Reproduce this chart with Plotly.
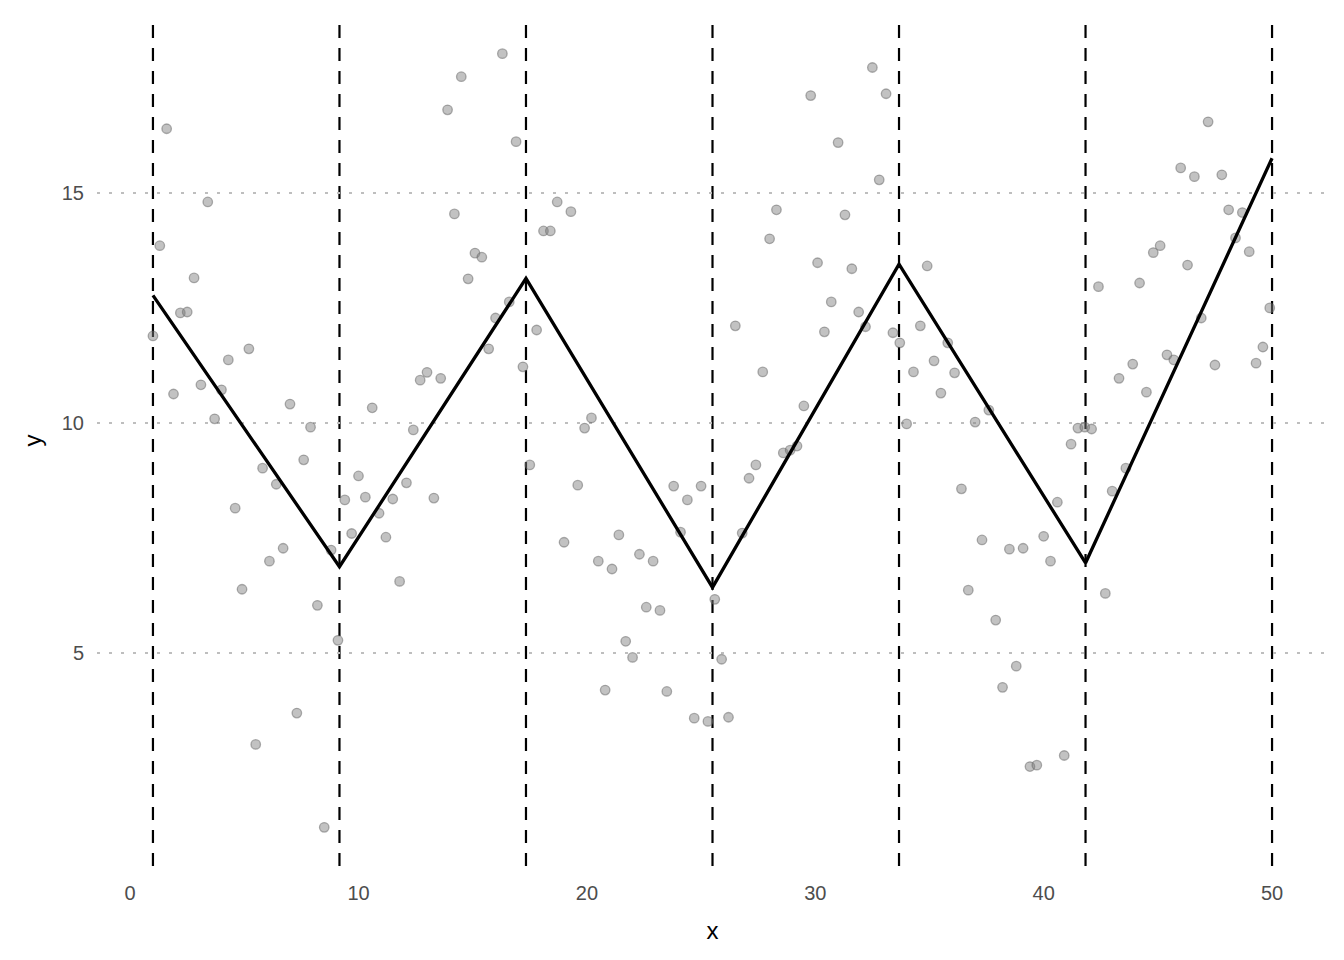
import plotly.graph_objects as go

x_obs = [1.0, 1.3, 1.6, 1.9, 2.2, 2.5, 2.8, 3.1, 3.4, 3.7,
         4.0, 4.3, 4.6, 4.9, 5.2, 5.5, 5.8, 6.1, 6.4, 6.7,
         7.0, 7.3, 7.6, 7.9, 8.2, 8.5, 8.8, 9.1, 9.4, 9.7,
         10.0, 10.3, 10.6, 10.9, 11.2, 11.5, 11.8, 12.1, 12.4, 12.7,
         13.0, 13.3, 13.6, 13.9, 14.2, 14.5, 14.8, 15.1, 15.4, 15.7,
         16.0, 16.3, 16.6, 16.9, 17.2, 17.5, 17.8, 18.1, 18.4, 18.7,
         19.0, 19.3, 19.6, 19.9, 20.2, 20.5, 20.8, 21.1, 21.4, 21.7,
         22.0, 22.3, 22.6, 22.9, 23.2, 23.5, 23.8, 24.1, 24.4, 24.7,
         25.0, 25.3, 25.6, 25.9, 26.2, 26.5, 26.8, 27.1, 27.4, 27.7,
         28.0, 28.3, 28.6, 28.9, 29.2, 29.5, 29.8, 30.1, 30.4, 30.7,
         31.0, 31.3, 31.6, 31.9, 32.2, 32.5, 32.8, 33.1, 33.4, 33.7,
         34.0, 34.3, 34.6, 34.9, 35.2, 35.5, 35.8, 36.1, 36.4, 36.7,
         37.0, 37.3, 37.6, 37.9, 38.2, 38.5, 38.8, 39.1, 39.4, 39.7,
         40.0, 40.3, 40.6, 40.9, 41.2, 41.5, 41.8, 42.1, 42.4, 42.7,
         43.0, 43.3, 43.6, 43.9, 44.2, 44.5, 44.8, 45.1, 45.4, 45.7,
         46.0, 46.3, 46.6, 46.9, 47.2, 47.5, 47.8, 48.1, 48.4, 48.7,
         49.0, 49.3, 49.6, 49.9]
y_obs = [11.89, 13.85, 16.39, 10.63, 12.39, 12.41, 13.15, 10.83, 14.80, 10.09,
         10.72, 11.37, 8.15, 6.39, 11.61, 3.02, 9.02, 7.00, 8.67, 7.28,
         10.41, 3.70, 9.20, 9.91, 6.04, 1.22, 7.24, 5.28, 8.33, 7.60,
         8.85, 8.39, 10.33, 8.04, 7.52, 8.35, 6.56, 8.70, 9.85, 10.93,
         11.10, 8.37, 10.97, 16.80, 14.54, 17.52, 13.13, 13.69, 13.60, 11.61,
         12.28, 18.02, 12.63, 16.11, 11.22, 9.09, 12.02, 14.17, 14.17, 14.80,
         7.41, 14.59, 8.65, 9.89, 10.11, 7.00, 4.20, 6.83, 7.57, 5.26,
         4.91, 7.15, 6.00, 7.00, 5.93, 4.17, 8.63, 7.63, 8.33, 3.59,
         8.63, 3.52, 6.17, 4.87, 3.61, 12.11, 7.61, 8.80, 9.09, 11.11,
         14.00, 14.63, 9.35, 9.41, 9.50, 10.37, 17.11, 13.48, 11.98, 12.63,
         16.09, 14.52, 13.35, 12.41, 12.09, 17.72, 15.28, 17.15, 11.96, 11.74,
         9.98, 11.11, 12.11, 13.41, 11.35, 10.65, 11.74, 11.09, 8.57, 6.37,
         10.02, 7.46, 10.28, 5.72, 4.26, 7.26, 4.72, 7.28, 2.54, 2.57,
         7.54, 7.00, 8.28, 2.78, 9.54, 9.89, 9.91, 9.87, 12.96, 6.30,
         8.52, 10.97, 9.02, 11.28, 13.04, 10.67, 13.70, 13.85, 11.48, 11.37,
         15.54, 13.43, 15.35, 12.28, 16.54, 11.26, 15.39, 14.63, 14.02, 14.57,
         13.72, 11.30, 11.65, 12.50]

# Piecewise-linear fit evaluated at the knots
knots = [1.0, 9.1667, 17.3333, 25.5, 33.6667, 41.8333, 50.0]
fit_y = [12.77, 6.88, 13.14, 6.43, 13.45, 6.96, 15.75]

x_ticks = [0, 10, 20, 30, 40, 50]
y_ticks = [5, 10, 15]

fig = go.Figure()

for k in knots:
    fig.add_vline(x=k, line=dict(color="black", width=2.2, dash="13px,10px"), layer="below")

fig.add_trace(go.Scatter(
    x=x_obs, y=y_obs, mode="markers",
    marker=dict(size=9.5, color="rgba(128,128,128,0.48)",
                line=dict(color="rgba(100,100,100,0.5)", width=1.3)),
    showlegend=False, hoverinfo="skip"))

fig.add_trace(go.Scatter(
    x=knots, y=fit_y, mode="lines",
    line=dict(color="black", width=3.3),
    showlegend=False, hoverinfo="skip"))

font_family = "Arial, Liberation Sans, sans-serif"

fig.update_layout(
    width=1336, height=952,
    paper_bgcolor="white", plot_bgcolor="white",
    margin=dict(l=89, r=16, t=7, b=94),
    font=dict(family=font_family),
    xaxis=dict(range=[-1.45, 52.45], tickvals=x_ticks, showgrid=False, zeroline=False,
               showline=False, ticks="outside", ticklen=9, tickcolor="rgba(0,0,0,0)",
               tickfont=dict(size=20, color="#4D4D4D"),
               title=dict(text="x", font=dict(size=24, color="black"), standoff=19)),
    yaxis=dict(range=[0.38, 18.86], tickvals=y_ticks, showgrid=True, gridcolor="#BEBEBE",
               gridwidth=2.3, griddash="3px,9px", zeroline=False, showline=False,
               ticks="outside", ticklen=8, tickcolor="rgba(0,0,0,0)",
               tickfont=dict(size=20, color="#4D4D4D"),
               title=dict(text="y", font=dict(size=24, color="black"), standoff=13)),
)

fig.write_html("out.html")
